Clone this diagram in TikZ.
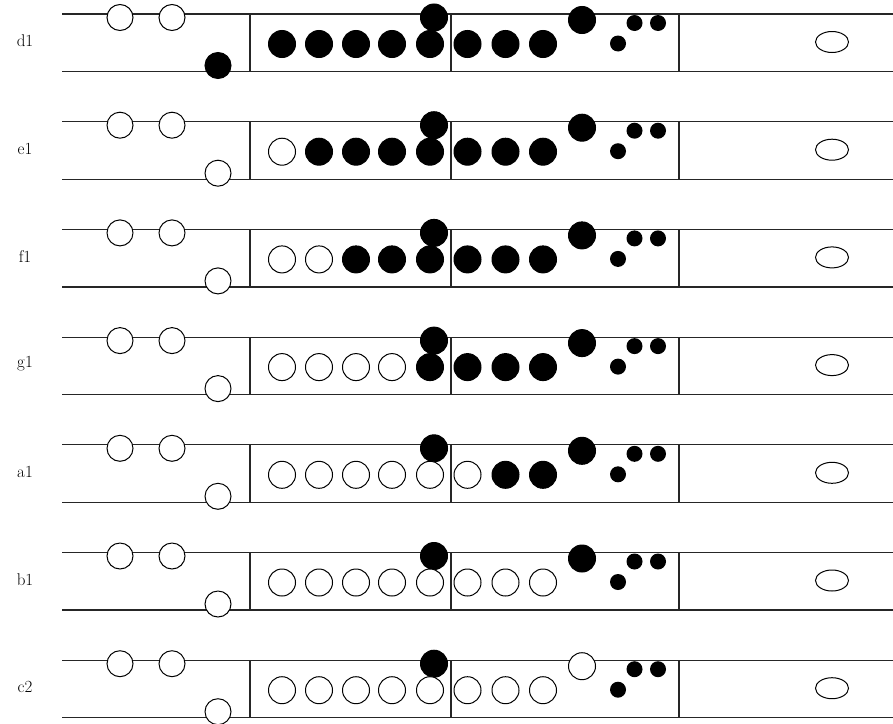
\documentclass[tikz,border=0pt]{standalone}
\usepackage{tikz}
\usetikzlibrary{shapes.geometric}

\begin{document}
\begin{tikzpicture}[x=1pt, y=-1pt,
  staff/.style={line width=1.2pt, draw=black!85},
  ball/.style={circle, draw, line width=1pt, inner sep=0pt, minimum size=27pt},
  head/.style={circle, draw, line width=1pt, inner sep=0pt, minimum size=26pt},
  dot/.style={circle, fill, inner sep=0pt, minimum size=16pt},
  oval/.style={ellipse, draw, line width=1pt, inner sep=0pt, minimum width=33pt, minimum height=21pt},
  tag/.style={font=\fontsize{17}{19}\selectfont}]
\useasboundingbox (0,0) rectangle (893,723);

% one staff per row: label / open balls / lower ball / upper ball
\foreach \lab/\nopen/\lowfill/\topfill [count=\r from 0] in
  {d1/0/black/black, e1/1/white/black, f1/2/white/black, g1/4/white/black,
   a1/6/white/black, b1/8/white/black, c2/8/white/white}
{
  \pgfmathsetmacro{\ytop}{14+107.7*\r}
  \pgfmathsetmacro{\ybot}{\ytop+57.5}
  % label
  \node[tag] (\lab) at (25,\ytop+27) {\lab};
  % lines
  \draw[staff] (62,\ytop) -- (893,\ytop);
  \draw[staff] (62,\ybot) -- (893,\ybot);
  \draw[staff] (250,\ytop) -- (250,\ybot);
  \draw[staff] (451,\ytop) -- (451,\ybot);
  \draw[staff] (679,\ytop) -- (679,\ybot);
  % left part
  \node[head, fill=white] (\lab-h1) at (120,\ytop+3.5) {};
  \node[head, fill=white] (\lab-h2) at (172,\ytop+3.5) {};
  \node[head, fill=\lowfill] (\lab-low) at (218,\ytop+51.5) {};
  % balls
  \node[ball, fill=black] (\lab-up) at (434,\ytop+3.5) {};
  \foreach \x [count=\i] in {282,319,356,392,430,467.5,505.5,543} {
    \ifnum\i>\nopen \def\fc{black}\else\def\fc{white}\fi
    \node[ball, fill=\fc] (\lab-n\i) at (\x,\ytop+30) {};
  }
  \node[ball, fill=\topfill] (\lab-big) at (582,\ytop+6) {};
  \node[dot] (\lab-d1) at (618,\ytop+29.5) {};
  \node[dot] (\lab-d2) at (634.5,\ytop+9) {};
  \node[dot] (\lab-d3) at (658,\ytop+9) {};
  % right part
  \node[oval] (\lab-o) at (832,\ytop+28) {};
}
\end{tikzpicture}
\end{document}
